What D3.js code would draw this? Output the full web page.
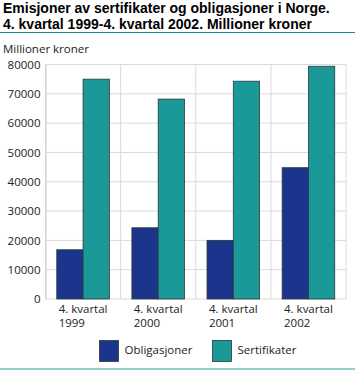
<!DOCTYPE html>
<html><head><meta charset="utf-8">
<script src="https://cdn.jsdelivr.net/npm/d3@7"></script>
<style>
html,body{margin:0;padding:0;background:#fff;}
svg{display:block;font-family:"Open Sans",sans-serif;}
</style></head>
<body>
<svg id="c" width="355" height="370"></svg>
<script>
const categories = ["4. kvartal|1999", "4. kvartal|2000", "4. kvartal|2001", "4. kvartal|2002"];
const seriesNames = ["Obligasjoner", "Sertifikater"];
const obligasjoner = [16800, 24300, 20000, 44800];
const sertifikater = [75000, 68200, 74300, 79400];
const yTicks = [0, 10000, 20000, 30000, 40000, 50000, 60000, 70000, 80000];
const colors = ["#1b348c", "#1b9898"];

const svg = d3.select("#c");
const m = {l: 45.5, r: 346, t: 64.5, b: 299};
const x0 = d3.scaleBand().domain(categories).range([m.l, m.r]).paddingInner(0).paddingOuter(0);
const x1 = d3.scaleBand().domain(seriesNames).range([x0.bandwidth()*0.15, x0.bandwidth()*0.85]);
const y = d3.scaleLinear().domain([0, 80000]).range([m.b, m.t]);
const values = [obligasjoner, sertifikater];

// title
const title = svg.append("g").attr("font-weight", "bold").attr("font-size", 14).attr("fill", "#000")
  .attr("font-family", "'Liberation Sans', Arial, sans-serif");
title.append("text").attr("x", 3).attr("y", 12.5).text("Emisjoner av sertifikater og obligasjoner i Norge.");
title.append("text").attr("x", 3).attr("y", 28.5).text("4. kvartal 1999-4. kvartal 2002. Millioner kroner");
svg.append("line").attr("x1", 0).attr("x2", 355).attr("y1", 32.5).attr("y2", 32.5).attr("stroke", "#1b8a8a").attr("stroke-width", 1);

svg.append("text").attr("x", 3).attr("y", 53).attr("font-size", 11.5).attr("fill", "#222").text("Millioner kroner");

// grid
const grid = svg.append("g");
grid.selectAll("line.h").data(yTicks).join("line")
  .attr("x1", m.l).attr("x2", m.r).attr("y1", d => y(d)).attr("y2", d => y(d))
  .attr("stroke", "#dadada").attr("stroke-width", 1);
const bounds = categories.map(c => x0(c)).concat([m.r]);
grid.selectAll("line.v").data(bounds).join("line")
  .attr("x1", d => d).attr("x2", d => d).attr("y1", m.t).attr("y2", m.b)
  .attr("stroke", "#dadada").attr("stroke-width", 1);

// y axis
const yAxis = svg.append("g").attr("transform", `translate(${m.l},0)`)
  .call(d3.axisLeft(y).tickValues(yTicks).tickFormat(d3.format("d")).tickSize(0).tickPadding(5));
yAxis.select(".domain").attr("stroke", "#cfcfcf");
yAxis.selectAll("text").attr("font-size", 11.5).attr("fill", "#222").attr("font-family", "Open Sans");

// bars
const groups = svg.append("g").selectAll("g").data(categories).join("g")
  .attr("transform", c => `translate(${x0(c)},0)`);
groups.selectAll("rect").data((c, i) => seriesNames.map((s, j) => ({s, v: values[j][i], j})))
  .join("rect")
  .attr("x", d => x1(d.s)).attr("width", x1.bandwidth())
  .attr("y", d => y(d.v)).attr("height", d => y(0) - y(d.v))
  .attr("fill", d => colors[d.j]).attr("stroke", "#2a3a3a").attr("stroke-width", 0.8);

// x labels (two lines, left-aligned block centred in band)
const xl = svg.append("g").attr("font-size", 11.5).attr("fill", "#222");
categories.forEach(c => {
  const parts = c.split("|");
  const cx = x0(c) + x0.bandwidth()/2;
  const t1 = xl.append("text").attr("x", cx).attr("y", 313).attr("text-anchor", "middle").text(parts[0]);
  const w = t1.node().getComputedTextLength();
  xl.append("text").attr("x", cx - w/2).attr("y", 327).text(parts[1]);
});

// legend
const legX = [99.5, 212.5];
const lg = svg.append("g");
seriesNames.forEach((s, j) => {
  lg.append("rect").attr("x", legX[j]).attr("y", 340.5).attr("width", 19).attr("height", 21)
    .attr("fill", colors[j]).attr("stroke", "#2a3a3a").attr("stroke-width", 0.8);
  lg.append("text").attr("x", legX[j] + 25).attr("y", 354).attr("font-size", 11.5).attr("fill", "#222").text(s);
});

svg.append("rect").attr("x", 0).attr("y", 368).attr("width", 355).attr("height", 2).attr("fill", "#8fd0c8");
</script>
</body></html>
